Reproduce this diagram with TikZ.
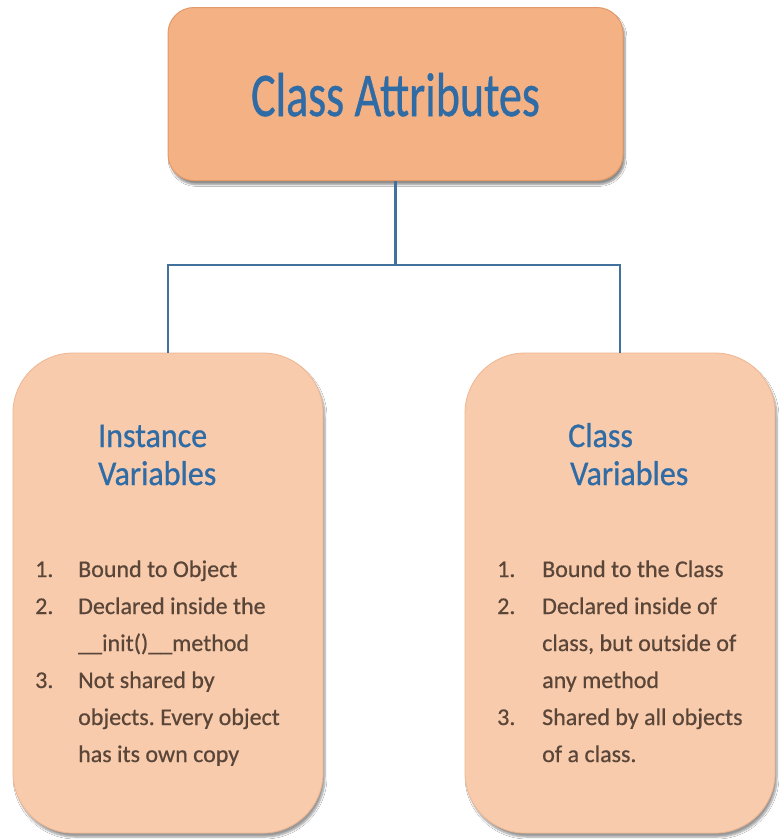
\documentclass[tikz,border=0pt]{standalone}
\usepackage{fontspec}
\setmainfont{Carlito}
\newfontfamily\boldishfont[FakeBold=0.6]{Carlito}
\newfontfamily\titlefontfam[FakeBold=0.8]{Carlito}
\usetikzlibrary{shadows.blur}
\frenchspacing
\definecolor{topfill}{HTML}{F4B183}
\definecolor{topline}{HTML}{E39A68}
\definecolor{subfill}{HTML}{F8CBAD}
\definecolor{subline}{HTML}{F0B690}
\definecolor{titleblue}{HTML}{2F6BA5}
\definecolor{bodytext}{HTML}{5A4638}
\definecolor{wire}{HTML}{41719C}
\tikzset{
  topbox/.style={draw=topline, line width=1pt, fill=topfill, rounded corners=26pt,
    minimum width=455pt, minimum height=173pt, inner sep=0pt,
    blur shadow={shadow xshift=2pt, shadow yshift=-4pt, shadow blur steps=6, shadow opacity=45}},
  subbox/.style={draw=subline, line width=0.8pt, fill=subfill, rounded corners=60pt,
    minimum width=310pt, minimum height=480pt, inner sep=0pt,
    blur shadow={shadow xshift=2pt, shadow yshift=-4pt, shadow blur steps=6, shadow opacity=40}},
  wireline/.style={draw=wire, line width=2.2pt},
  titletext/.style={text=titleblue, inner sep=0pt, font=\titlefontfam\fontsize{46}{50}\selectfont},
  subtitle/.style={text=titleblue, inner sep=0pt, anchor=base west, font=\titlefontfam\fontsize{32}{36}\selectfont},
  bodylist/.style={text=bodytext, inner sep=0pt, anchor=base west, font=\boldishfont\fontsize{24}{37}\selectfont},
}
\begin{document}
\begin{tikzpicture}[x=1pt,y=-1pt]
\useasboundingbox (0,0) rectangle (780,839);
\fill[white] (0,0) rectangle (780,839);

\node[topbox] (top) at (395.5,94) {};
\node[subbox] (left) at (168,593) {};
\node[subbox] (right) at (620,593) {};

\coordinate (j) at (395.5,265);
\draw[wireline] (top.south) -- (j);
\draw[wireline] (left.north) |- (j) -| (right.north);

\node[titletext, anchor=base] (ttl) at (395.5,116) {\scalebox{1}[1.35]{Class Attributes}};

\node[subtitle] (iv1) at (98,447) {\scalebox{1}[1.08]{Instance}};
\node[subtitle] (iv2) at (98,485) {\scalebox{1}[1.08]{Variables}};
\node[subtitle] (cv1) at (568,447) {\scalebox{1}[1.08]{Class}};
\node[subtitle] (cv2) at (570,485) {\scalebox{1}[1.08]{Variables}};

\node[bodylist] (ilist) at (35,577) {\begin{tabular}[t]{@{}p{43pt}@{}l@{}}
1. & Bound to Object\\
2. & Declared inside the\\
   & \_\_init()\_\_method\\
3. & Not shared by\\
   & objects. Every object\\
   & has its own copy
\end{tabular}};

\node[bodylist] (clist) at (497,577) {\begin{tabular}[t]{@{}p{45pt}@{}l@{}}
1. & Bound to the Class\\
2. & Declared inside of\\
   & class, but outside of\\
   & any method\\
3. & Shared by all objects\\
   & of a class.
\end{tabular}};
\end{tikzpicture}
\end{document}
